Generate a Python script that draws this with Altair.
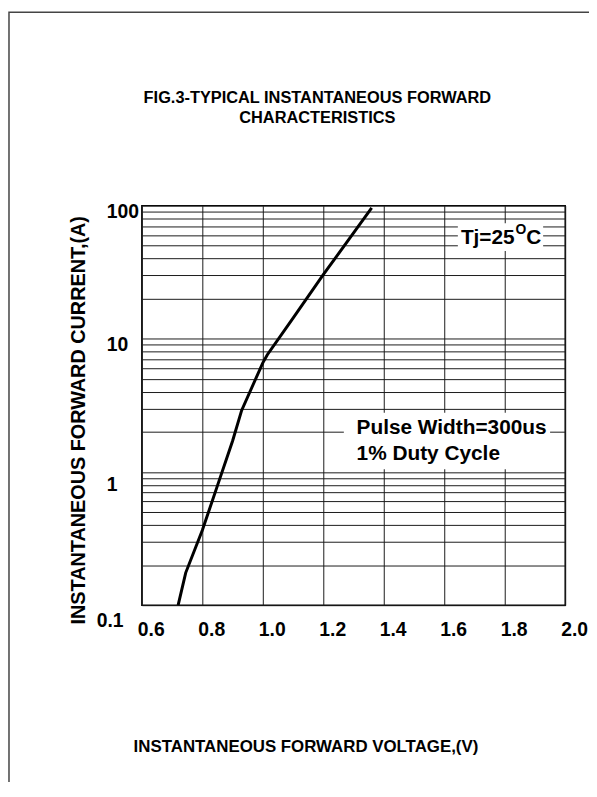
import altair as alt
import pandas as pd

# Curve (forward voltage V, forward current A)
voltage = [0.72, 0.745, 0.80, 0.85, 0.90, 0.93, 1.0, 1.015, 1.1, 1.2, 1.36]
current = [0.1, 0.175, 0.365, 0.79, 1.71, 2.9, 6.6, 7.6, 14.3, 30.3, 96]

# Grid / tick values
x_grid = [0.6, 0.7, 0.8, 0.9, 1.0, 1.1, 1.2, 1.3, 1.4, 1.5, 1.6, 1.7, 1.8, 1.9, 2.0]
y_grid = [0.1, 0.2, 0.3, 0.4, 0.5, 0.6, 0.7, 0.8, 0.9,
          1, 2, 3, 4, 5, 6, 7, 8, 9,
          10, 20, 30, 40, 50, 60, 70, 80, 90, 100]
y_labels = ["0.1", "1", "10", "100"]

title_lines = ["FIG.3-TYPICAL INSTANTANEOUS FORWARD", "CHARACTERISTICS"]
x_title = "INSTANTANEOUS FORWARD VOLTAGE,(V)"
y_title = "INSTANTANEOUS FORWARD CURRENT,(A)"

# Annotations (anchored in data coordinates)
box_x = [1.645, 1.268]
box_x2 = [1.927, 1.95]
box_y = [45.7, 1.05]
box_y2 = [73.8, 2.79]

note_text = ["Pulse Width=300us", "1% Duty Cycle"]
note_x = [1.31, 1.31]
note_y = [2.12, 1.36]

tj_parts = ["Tj=25", "O", "C"]
tj_x = 1.655
tj_y = 57.4

FONT = "Liberation Sans"
W, H = 427, 403

x_scale = alt.Scale(domain=[0.6, 2.0], nice=False, zero=False)
y_scale = alt.Scale(type="log", domain=[0.1, 100], nice=False)

curve_df = pd.DataFrame({"V": voltage, "I": current})

x_axis = alt.Axis(
    values=x_grid,
    grid=True, gridColor="#1a1a1a", gridWidth=1, gridOpacity=1,
    ticks=False, domain=False,
    labelExpr="(round(datum.value*10) % 2 == 0) ? format(datum.value, '.1f') : ''",
    labelFont=FONT, labelFontSize=19.5, labelFontWeight="bold", labelColor="black",
    labelOffset=9, labelPadding=16, labelFlush=False, labelOverlap=False,
    title=x_title, titleFont=FONT, titleFontSize=17, titleFontWeight="bold",
    titleColor="black", titleX=165, titleY=143, titleBaseline="middle",
    titleAlign="center",
)

y_axis = alt.Axis(
    values=y_grid, format="~g",
    grid=True, gridColor="#1a1a1a", gridWidth=1, gridOpacity=1,
    ticks=False, domain=False,
    labelExpr="indexof(" + str(y_labels) + ", datum.label) >= 0 ? datum.label : ''",
    labelFont=FONT, labelFontSize=19.5, labelFontWeight="bold", labelColor="black",
    labelAlign="left", labelBaseline="middle",
    labelPadding={"condition": {"test": "datum.value < 1", "value": 46}, "value": 36},
    labelOffset={"condition": [{"test": "datum.value >= 10", "value": 6},
                               {"test": "datum.value >= 1", "value": 13}],
                 "value": 16},
    labelFlush=False, labelOverlap=False,
    title=y_title, titleFont=FONT, titleFontSize=20, titleFontWeight="bold",
    titleColor="black", titleAngle=270, titleX=-64, titleY=216,
    titleBaseline="middle", titleAlign="center",
)

line = alt.Chart(curve_df).mark_line(color="black", strokeWidth=3).encode(
    x=alt.X("V:Q", scale=x_scale, axis=x_axis),
    y=alt.Y("I:Q", scale=y_scale, axis=y_axis),
)

boxes_df = pd.DataFrame({"x": box_x, "x2": box_x2, "y": box_y, "y2": box_y2})
boxes = alt.Chart(boxes_df).mark_rect(fill="white").encode(
    x=alt.X("x:Q", scale=x_scale), x2="x2:Q",
    y=alt.Y("y:Q", scale=y_scale), y2="y2:Q",
)

notes_df = pd.DataFrame({"t": note_text, "x": note_x, "y": note_y})
notes = alt.Chart(notes_df).mark_text(
    font=FONT, fontSize=21, fontWeight="bold", color="black",
    align="left", baseline="middle",
).encode(
    x=alt.X("x:Q", scale=x_scale), y=alt.Y("y:Q", scale=y_scale), text="t:N"
)

def tj_layer(part, size, dx, dy):
    df = pd.DataFrame({"t": [part], "x": [tj_x], "y": [tj_y]})
    return alt.Chart(df).mark_text(
        font=FONT, fontSize=size, fontWeight="bold", color="black",
        align="left", baseline="middle", dx=dx, dy=dy,
    ).encode(x=alt.X("x:Q", scale=x_scale), y=alt.Y("y:Q", scale=y_scale), text="t:N")

tj_main = tj_layer(tj_parts[0], 21, 0, 0)
tj_sup = tj_layer(tj_parts[1], 14, 55, -8)
tj_c = tj_layer(tj_parts[2], 21, 66, 0)

# Title lines (placed in pixel space above the plot)
def title_layer(text, ypix):
    return alt.Chart(pd.DataFrame({"t": [text]})).mark_text(
        font=FONT, fontSize=16.5, fontWeight="bold", color="black",
        align="center", baseline="middle",
    ).encode(x=alt.value(177), y=alt.value(ypix), text="t:N")

title1 = title_layer(title_lines[0], -109)
title2 = title_layer(title_lines[1], -88)

# Outer frame of the figure
one = pd.DataFrame({"k": [0]})
frame = alt.Chart(one).mark_rect(
    filled=False, stroke="#444444", strokeWidth=1.5
).encode(
    x=alt.value(-134), x2=alt.value(W + 200),
    y=alt.value(-195), y2=alt.value(H + 300),
)

chart = alt.layer(
    frame, line, boxes, notes, tj_main, tj_sup, tj_c, title1, title2
).properties(
    width=W, height=H,
    autosize=alt.AutoSizeParams(type="none"),
    padding={"left": 135, "top": 196, "right": 24, "bottom": 175},
    background="white",
).configure_view(stroke="black", strokeWidth=1.5)

chart.save("out.html", embed_options={"renderer": "svg", "actions": False})
